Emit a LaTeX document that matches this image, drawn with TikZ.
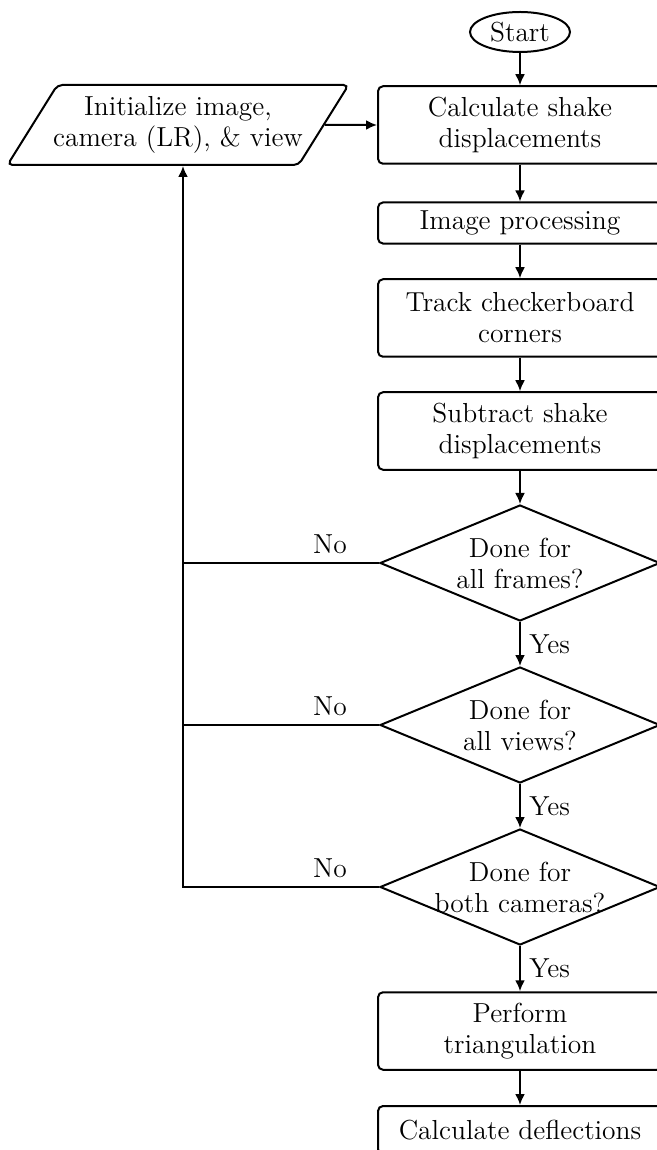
\documentclass[tikz,border=0pt]{standalone}
\usetikzlibrary{shapes.geometric,arrows.meta,positioning}

\tikzset{
  startstop/.style={ellipse, draw, thick, minimum width=40pt, minimum height=16pt, inner sep=1pt},
  process/.style={rectangle, draw, thick, rounded corners=2pt, align=center,
    minimum width=113.6pt, minimum height=31pt},
  process1/.style={process, minimum height=16pt},
  io/.style={trapezium, draw, thick, rounded corners=2pt, align=center,
    trapezium left angle=58, trapezium right angle=122,
    inner xsep=-5.5pt, minimum height=32pt},
  decision/.style={diamond, draw, thick, align=center, aspect=2.45,
    minimum width=112pt, minimum height=46.4pt, inner sep=-4pt},
  line/.style={draw, thick, -{Latex[length=4.4pt,width=4pt]}},
  plain/.style={draw, thick}
}

\begin{document}
\begin{tikzpicture}[x=0.4pt,y=-0.4pt, font=\fontsize{11}{12.4}\selectfont]
\useasboundingbox (0,0) rectangle (657,1150);

\node[startstop] (start) at (520,32) {Start};
\node[process] (calc) at (520,125) {Calculate shake\\displacements};
\node[io] (init) at (178,125) {Initialize image,\\camera (LR), \& view};
\node[process1] (improc) at (520,223) {Image processing};
\node[process] (track) at (520,318) {Track checkerboard\\corners};
\node[process] (subtract) at (520,431) {Subtract shake\\displacements};
\node[decision] (frames) at (520,563) {Done for\\all frames?};
\node[decision] (views) at (520,725) {Done for\\all views?};
\node[decision] (cams) at (520,887) {Done for\\both cameras?};
\node[process] (tri) at (520,1031) {Perform\\triangulation};
\node[process1, minimum height=19.2pt] (defl) at (520,1130) {Calculate deflections};
\coordinate (back) at (183,887);

\path[line] (start) -- (calc);
\path[line] (init.east) -- (calc.west);
\path[line] (calc) -- (improc);
\path[line] (improc) -- (track);
\path[line] (track) -- (subtract);
\path[line] (subtract) -- (frames);
\path[line] (frames) -- node[right] {Yes} (views);
\path[line] (views) -- node[right] {Yes} (cams);
\path[line] (cams) -- node[right] {Yes} (tri);
\path[line] (tri) -- (defl);

\path[plain] (frames.west) -- node[pos=0.25, above] {No} (frames.west -| back);
\path[plain] (views.west) -- node[pos=0.25, above] {No} (views.west -| back);
\path[line] (cams.west) -- node[pos=0.25, above] {No} (back) -- (init.south -| back);
\end{tikzpicture}
\end{document}
